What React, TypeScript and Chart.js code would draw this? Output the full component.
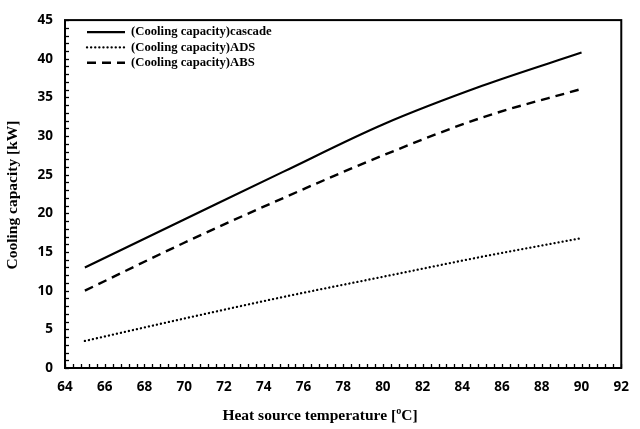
import { useEffect, useRef } from "react";
import { Chart, registerables } from "chart.js";

Chart.register(...registerables);

// heat source temperature (°C)
const temps = [65, 70, 75, 80, 85, 90];
// cooling capacity (kW)
const cascade = [13.0, 19.2, 25.4, 31.5, 36.5, 40.8];
const ads = [3.5, 6.4, 9.2, 11.8, 14.4, 16.8];
const abs = [10.0, 16.2, 22.0, 27.5, 32.4, 36.1];

const seriesLabels = [
  "(Cooling capacity)cascade",
  "(Cooling capacity)ADS",
  "(Cooling capacity)ABS",
];
const xTitle = "Heat source temperature [ºC]";
const yTitle = "Cooling capacity [kW]";
const dashes = [[], [0.1, 4], [9, 6]];
const caps = ["butt", "round", "butt"];
const widths = [2.2, 2.3, 2.4];

const serif = "'Liberation Serif', 'Times New Roman', serif";
const sans = "'Open Sans', 'Liberation Sans', sans-serif";

// frame, inward ticks, axis titles and the in-plot legend
const framePlugin = {
  id: "frame",
  afterDraw(chart: any) {
    const { ctx, chartArea: a, scales } = chart;
    ctx.save();
    ctx.strokeStyle = "#000";
    ctx.lineWidth = 1.3;
    const xs = scales.x;
    for (let v = 64; v <= 92.001; v += 0.4) {
      const px = Math.round(xs.getPixelForValue(v)) + 0.5;
      ctx.beginPath();
      ctx.moveTo(px, a.bottom);
      ctx.lineTo(px, a.bottom - 4);
      ctx.stroke();
    }
    const ys = scales.y;
    for (let v = 0; v <= 45; v += 1) {
      const py = Math.round(ys.getPixelForValue(v)) + 0.5;
      ctx.beginPath();
      ctx.moveTo(a.left, py);
      ctx.lineTo(a.left + 4, py);
      ctx.stroke();
    }
    ctx.lineWidth = 2;
    ctx.strokeRect(a.left, a.top, a.right - a.left, a.bottom - a.top);

    // axis titles (the original centres them on the whole figure)
    ctx.fillStyle = "#000";
    ctx.font = `bold 15.5px ${serif}`;
    ctx.textAlign = "center";
    ctx.textBaseline = "middle";
    ctx.fillText(xTitle, chart.width / 2, 416);
    ctx.save();
    ctx.translate(13, 195);
    ctx.rotate(-Math.PI / 2);
    ctx.fillText(yTitle, 0, 0);
    ctx.restore();

    ctx.textAlign = "left";
    chart.data.datasets.forEach((ds: any, i: number) => {
      const y = a.top + 12 + i * 15.3;
      ctx.beginPath();
      ctx.setLineDash(ds.borderDash || []);
      ctx.lineCap = ds.borderCapStyle || "butt";
      ctx.lineWidth = ds.borderWidth;
      ctx.moveTo(a.left + 22, y);
      ctx.lineTo(a.left + 60, y);
      ctx.stroke();
      ctx.setLineDash([]);
      ctx.lineCap = "butt";
      ctx.font = `bold 12.7px ${serif}`;
      ctx.fillText(ds.label, a.left + 66, y);
    });
    ctx.restore();
  },
};

const App = () => {
  const canvasRef = useRef<HTMLCanvasElement | null>(null);
  const chartRef = useRef<Chart | null>(null);

  useEffect(() => {
    if (!canvasRef.current) return;
    const series = [cascade, ads, abs];

    chartRef.current = new Chart(canvasRef.current, {
      type: "line",
      data: {
        datasets: series.map((vals, i) => ({
          label: seriesLabels[i],
          data: temps.map((t, j) => ({ x: t, y: vals[j] })),
          borderColor: "#000",
          borderWidth: widths[i],
          borderDash: dashes[i],
          borderCapStyle: caps[i] as CanvasLineCap,
          pointRadius: 0,
          fill: false,
          cubicInterpolationMode: "monotone" as const,
        })),
      },
      options: {
        responsive: true,
        maintainAspectRatio: false,
        animation: false,
        layout: { padding: { left: 0, top: 12, right: 18, bottom: 0 } },
        plugins: {
          legend: { display: false },
          tooltip: { enabled: false },
        },
        scales: {
          x: {
            type: "linear",
            min: 64,
            max: 92,
            grid: { display: false, drawTicks: false },
            border: { display: false },
            ticks: {
              stepSize: 2,
              padding: 11,
              color: "#000",
              font: { family: sans, size: 13.5, weight: "bold" },
            },
            afterFit: (s: any) => {
              s.height = 61;
            },
          },
          y: {
            min: 0,
            max: 45,
            grid: { display: false, drawTicks: false },
            border: { display: false },
            ticks: {
              stepSize: 5,
              padding: 12,
              color: "#000",
              font: { family: sans, size: 13.5, weight: "bold" },
            },
            afterFit: (s: any) => {
              s.width = 65;
            },
          },
        },
      },
      plugins: [framePlugin],
    });

    return () => {
      chartRef.current?.destroy();
    };
  }, []);

  return (
    <div
      style={{
        position: "fixed",
        left: 0,
        top: 0,
        width: 640,
        height: 429,
        background: "#fff",
      }}
    >
      <canvas ref={canvasRef} />
    </div>
  );
};

export default App;
